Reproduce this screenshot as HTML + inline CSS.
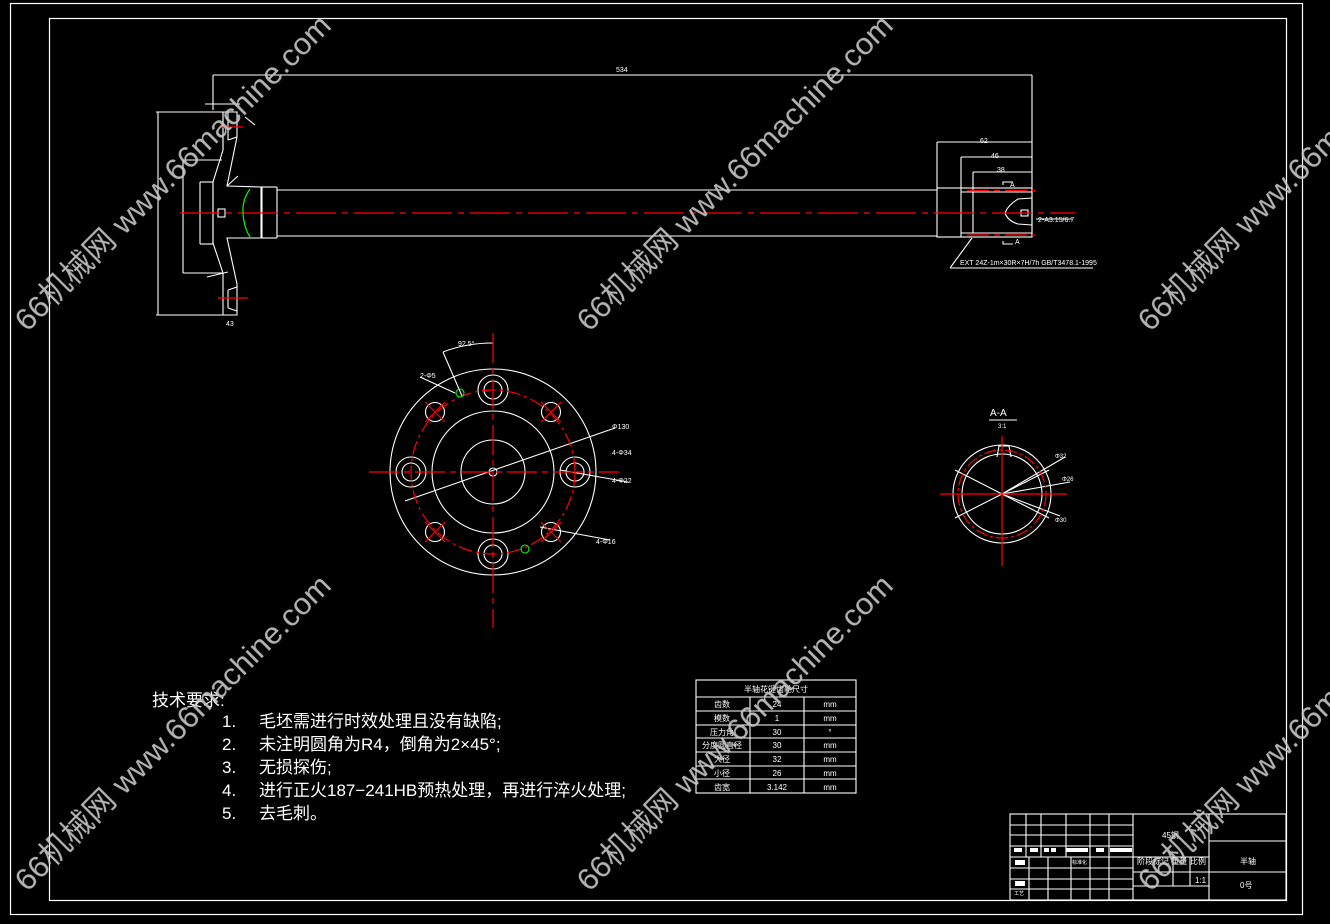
<!DOCTYPE html>
<html><head><meta charset="utf-8"><style>
html,body{margin:0;padding:0;background:#000;width:1330px;height:924px;overflow:hidden}
svg{display:block}
text{font-family:"Liberation Sans","Noto Sans CJK SC",sans-serif}
</style></head><body>
<svg width="1330" height="924" viewBox="0 0 1330 924" xmlns="http://www.w3.org/2000/svg">
<rect width="1330" height="924" fill="#000"/>
<g fill="none" stroke="#fff" stroke-width="1.2">
<rect x="10.5" y="3.5" width="1292" height="911"/>
<rect x="49.5" y="18.5" width="1237" height="882"/>
</g>

<g fill="none" stroke="#fff" stroke-width="1.1">
<line x1="213" y1="75" x2="1032" y2="75"/>
<line x1="213" y1="75" x2="213" y2="110"/>
<line x1="1032" y1="75" x2="1032" y2="237"/>
<polyline points="223,112 237,112 237,137 227,186 261,187 261,238 227,238 237,284 237,315 223,315 223,273 213,243 213,182 223,150 223,112"/>
<line x1="213" y1="182" x2="213" y2="244"/>
<line x1="223" y1="112" x2="223" y2="150"/>
<line x1="228" y1="112" x2="228" y2="140"/>
<line x1="228" y1="140" x2="237" y2="137"/>
<line x1="228" y1="290" x2="228" y2="308"/>
<line x1="228" y1="290" x2="237" y2="287"/>
<line x1="228" y1="308" x2="237" y2="311"/>
<line x1="261" y1="187" x2="277" y2="187"/>
<line x1="261" y1="238" x2="277" y2="238"/>
<line x1="277" y1="187" x2="277" y2="238"/>
<line x1="277" y1="190" x2="937" y2="190"/>
<line x1="277" y1="236" x2="937" y2="236"/>
<rect x="218" y="209" width="7" height="8"/>
<line x1="158" y1="112" x2="158" y2="315"/>
<line x1="156" y1="112" x2="223" y2="112"/>
<line x1="156" y1="315" x2="223" y2="315"/>
<line x1="183" y1="160" x2="183" y2="273"/>
<line x1="183" y1="160" x2="222" y2="160"/>
<line x1="183" y1="273" x2="222" y2="273"/>
<line x1="200" y1="182" x2="200" y2="244"/>
<line x1="200" y1="182" x2="213" y2="182"/>
<line x1="200" y1="244" x2="213" y2="244"/>
<line x1="262" y1="187" x2="262" y2="238"/>
<line x1="205" y1="104" x2="240" y2="104"/>
<line x1="245" y1="117" x2="255" y2="125"/>
<line x1="227" y1="186" x2="238" y2="176"/>
<line x1="207" y1="277" x2="228" y2="272"/>
<rect x="937" y="188" width="95" height="49"/>
<line x1="961" y1="188" x2="961" y2="237"/>
<line x1="973" y1="192" x2="973" y2="233"/>
<line x1="937" y1="142" x2="1032" y2="142"/>
<line x1="937" y1="142" x2="937" y2="188"/>
<line x1="961" y1="157" x2="1032" y2="157"/>
<line x1="961" y1="157" x2="961" y2="188"/>
<line x1="973" y1="172" x2="1032" y2="172"/>
<line x1="973" y1="172" x2="973" y2="192"/>
<line x1="961" y1="192" x2="1032" y2="192"/>
<line x1="961" y1="233" x2="1032" y2="233"/>
<path d="M1032,198 L1018,199 Q1008,205 1005,213 Q1008,221 1018,224 L1032,225"/>
<rect x="1021" y="210" width="7" height="6"/>
<polyline points="1003,185 1003,182 1013,182"/>
<polyline points="1003,241 1003,244 1013,244"/>
<line x1="950" y1="268" x2="972" y2="238"/>
<line x1="950" y1="268" x2="1093" y2="268"/>
<line x1="1036" y1="219" x2="1072" y2="219"/>
</g>
<g stroke="#f00" stroke-width="1.2" fill="none">
<line x1="180" y1="213" x2="1075" y2="213" stroke-dasharray="40,6,6,6"/>
<line x1="220" y1="127" x2="243" y2="127"/>
<line x1="218" y1="298" x2="248" y2="298"/>
<line x1="967" y1="190.5" x2="1035" y2="190.5" stroke-dasharray="22,5,6,5"/>
<line x1="967" y1="235" x2="1035" y2="235" stroke-dasharray="22,5,6,5"/>
</g>
<path d="M250,189 Q242,200 243,213 Q244,228 250,237" stroke="#0f0" fill="none" stroke-width="1.2"/>
<g fill="#fff" font-size="7">
<text x="616" y="72">534</text>
<text x="980" y="143">62</text>
<text x="991" y="158">46</text>
<text x="997" y="172">38</text>
<text x="960" y="265">EXT 24Z-1m×30R×7H/7h GB/T3478.1-1995</text>
<text x="1038" y="222">2-A3.15/6.7</text>
<text x="1010" y="187">A</text><text x="1015" y="244">A</text>
<text x="226" y="326">43</text>
</g>

<g fill="none" stroke="#fff" stroke-width="1.1">
<circle cx="493" cy="472" r="103"/>
<circle cx="493" cy="472" r="61"/>
<circle cx="493" cy="472" r="32"/>
<circle cx="493" cy="472" r="4"/>
<circle cx="493" cy="390" r="15"/><circle cx="493" cy="390" r="9"/>
<circle cx="493" cy="554" r="15"/><circle cx="493" cy="554" r="9"/>
<circle cx="411" cy="472" r="15"/><circle cx="411" cy="472" r="9"/>
<circle cx="575" cy="472" r="15"/><circle cx="575" cy="472" r="9"/>
<circle cx="435" cy="412" r="9.5"/><circle cx="551" cy="412" r="9.5"/>
<circle cx="435" cy="532" r="9.5"/><circle cx="551" cy="532" r="9.5"/>
<line x1="405" y1="501" x2="615" y2="428"/>
<line x1="560" y1="470" x2="628" y2="482"/>
<line x1="540" y1="527" x2="610" y2="540"/>
<line x1="443" y1="352" x2="462" y2="396"/>
<path d="M443,352 Q466,343 493,343"/>
<line x1="420" y1="377" x2="455" y2="393"/>
</g>
<g stroke="#f00" stroke-width="1.2" fill="none">
<line x1="493" y1="333" x2="493" y2="628" stroke-dasharray="30,5,6,5"/>
<line x1="369" y1="472" x2="619" y2="472" stroke-dasharray="30,5,6,5"/>
<circle cx="493" cy="472" r="82" stroke-dasharray="14,4,3,4"/>
<path d="M425,402 l20,20 M445,402 l-20,20 M541,402 l20,20 M561,402 l-20,20 M425,522 l20,20 M445,522 l-20,20 M541,522 l20,20 M561,522 l-20,20"/>
</g>
<g stroke="#0f0" fill="none" stroke-width="1.1"><circle cx="460" cy="393" r="4"/><circle cx="525" cy="549" r="4"/></g>
<g fill="#fff" font-size="7">
<text x="458" y="346">92.5°</text><text x="420" y="378">2-Φ5</text>
<text x="612" y="429">Φ130</text><text x="612" y="455">4-Φ34</text>
<text x="612" y="483">4-Φ22</text><text x="596" y="544">4-Φ16</text>
</g>

<g fill="none" stroke="#fff" stroke-width="1.1">
<circle cx="1002" cy="494" r="49"/>
<circle cx="1002" cy="494" r="40"/>
<polyline points="997,457 999,446 1009,446 1011,457"/>
<line x1="955" y1="470" x2="1049" y2="518"/>
<line x1="955" y1="518" x2="1049" y2="470"/>
<line x1="1002" y1="494" x2="1065" y2="457"/>
<line x1="1002" y1="494" x2="1070" y2="482"/>
<line x1="1002" y1="494" x2="1060" y2="516"/>
<line x1="989" y1="420" x2="1017" y2="420"/>
</g>
<g stroke="#f00" stroke-width="1.2" fill="none">
<circle cx="1002" cy="494" r="44" stroke-dasharray="12,3,3,3"/>
<line x1="1002" y1="436" x2="1002" y2="566"/>
<line x1="940" y1="494" x2="1067" y2="494"/>
</g>
<g fill="#fff"><text x="990" y="416" font-size="10">A-A</text><text x="998" y="428" font-size="6">3:1</text>
<text x="1055" y="458" font-size="6">Φ32</text><text x="1062" y="481" font-size="6">Φ26</text><text x="1055" y="522" font-size="6">Φ30</text></g>

<g fill="#fff" font-size="17">
<text x="152" y="706">技术要求:</text>
<text x="222" y="727">1.</text><text x="259" y="727">毛坯需进行时效处理且没有缺陷;</text>
<text x="222" y="750">2.</text><text x="259" y="750">未注明圆角为R4，倒角为2×45°;</text>
<text x="222" y="773">3.</text><text x="259" y="773">无损探伤;</text>
<text x="222" y="796">4.</text><text x="259" y="796">进行正火187−241HB预热处理，再进行淬火处理;</text>
<text x="222" y="819">5.</text><text x="259" y="819">去毛刺。</text>
</g>

<g fill="none" stroke="#fff" stroke-width="1.1">
<rect x="696" y="680" width="160" height="113"/>
<line x1="696" y1="697" x2="856" y2="697"/>
<line x1="696" y1="711" x2="856" y2="711"/><line x1="696" y1="725" x2="856" y2="725"/>
<line x1="696" y1="738" x2="856" y2="738"/><line x1="696" y1="752" x2="856" y2="752"/>
<line x1="696" y1="766" x2="856" y2="766"/><line x1="696" y1="779" x2="856" y2="779"/>
<line x1="750" y1="697" x2="750" y2="793"/><line x1="804" y1="697" x2="804" y2="793"/>
</g>
<g fill="#fff" font-size="8" text-anchor="middle">
<text x="776" y="692">半轴花键齿轮尺寸</text>
<text x="722" y="707">齿数</text><text x="777" y="707">24</text><text x="830" y="707">mm</text>
<text x="722" y="721">模数</text><text x="777" y="721">1</text><text x="830" y="721">mm</text>
<text x="722" y="735">压力角</text><text x="777" y="735">30</text><text x="830" y="735">°</text>
<text x="722" y="748">分度圆直径</text><text x="777" y="748">30</text><text x="830" y="748">mm</text>
<text x="722" y="762">大径</text><text x="777" y="762">32</text><text x="830" y="762">mm</text>
<text x="722" y="776">小径</text><text x="777" y="776">26</text><text x="830" y="776">mm</text>
<text x="722" y="790">齿宽</text><text x="777" y="790">3.142</text><text x="830" y="790">mm</text>
</g>

<g fill="none" stroke="#fff" stroke-width="1.1">
<rect x="1010" y="814" width="276" height="86"/>
<line x1="1010" y1="825" x2="1133" y2="825"/><line x1="1010" y1="835" x2="1133" y2="835"/>
<line x1="1010" y1="846" x2="1133" y2="846"/><line x1="1010" y1="857" x2="1209" y2="857"/>
<line x1="1010" y1="868" x2="1133" y2="868"/><line x1="1010" y1="879" x2="1133" y2="879"/>
<line x1="1010" y1="889" x2="1133" y2="889"/>
<line x1="1026" y1="814" x2="1026" y2="857"/><line x1="1041" y1="814" x2="1041" y2="857"/>
<line x1="1066" y1="814" x2="1066" y2="857"/><line x1="1090" y1="814" x2="1090" y2="900"/>
<line x1="1109" y1="814" x2="1109" y2="900"/><line x1="1133" y1="814" x2="1133" y2="900"/>
<line x1="1029" y1="857" x2="1029" y2="900"/><line x1="1048" y1="857" x2="1048" y2="900"/>
<line x1="1071" y1="857" x2="1071" y2="900"/>
<line x1="1209" y1="814" x2="1209" y2="900"/>
<line x1="1133" y1="872" x2="1209" y2="872"/><line x1="1133" y1="886" x2="1209" y2="886"/>
<line x1="1173" y1="857" x2="1173" y2="886"/><line x1="1190" y1="857" x2="1190" y2="886"/>
<line x1="1209" y1="841" x2="1286" y2="841"/><line x1="1209" y1="872" x2="1286" y2="872"/>
</g>
<g fill="#fff">
<rect x="1014" y="848" width="8" height="4"/><rect x="1030" y="848" width="8" height="4"/>
<rect x="1044" y="848" width="5" height="4"/><rect x="1051" y="848" width="5" height="4"/>
<rect x="1066" y="848" width="22" height="4"/><rect x="1096" y="848" width="8" height="4"/><rect x="1110" y="848" width="22" height="4"/>
<rect x="1015" y="860" width="10" height="5"/><rect x="1015" y="881" width="10" height="5"/>
</g>
<g fill="#fff" font-size="8">
<text x="1162" y="838">45钢</text>
<text x="1137" y="864">阶段标记 重量</text><text x="1190" y="864">比例</text>
<text x="1195" y="883">1:1</text>
<text x="1240" y="864">半轴</text><text x="1240" y="888">0号</text>
<text x="1072" y="864" font-size="5">标准化</text><text x="1014" y="895" font-size="5">工艺</text>
</g>

<g fill="#c8c8c8" font-size="31" text-anchor="middle" opacity="0.9">
<text transform="translate(180,180) rotate(-45)" textLength="432" lengthAdjust="spacingAndGlyphs">66机械网 www.66machine.com</text>
<text transform="translate(742,180) rotate(-45)" textLength="432" lengthAdjust="spacingAndGlyphs">66机械网 www.66machine.com</text>
<text transform="translate(1303,180) rotate(-45)" textLength="432" lengthAdjust="spacingAndGlyphs">66机械网 www.66machine.com</text>
<text transform="translate(180,740) rotate(-45)" textLength="432" lengthAdjust="spacingAndGlyphs">66机械网 www.66machine.com</text>
<text transform="translate(742,740) rotate(-45)" textLength="432" lengthAdjust="spacingAndGlyphs">66机械网 www.66machine.com</text>
<text transform="translate(1303,740) rotate(-45)" textLength="432" lengthAdjust="spacingAndGlyphs">66机械网 www.66machine.com</text>
</g>
</svg>
</body></html>
